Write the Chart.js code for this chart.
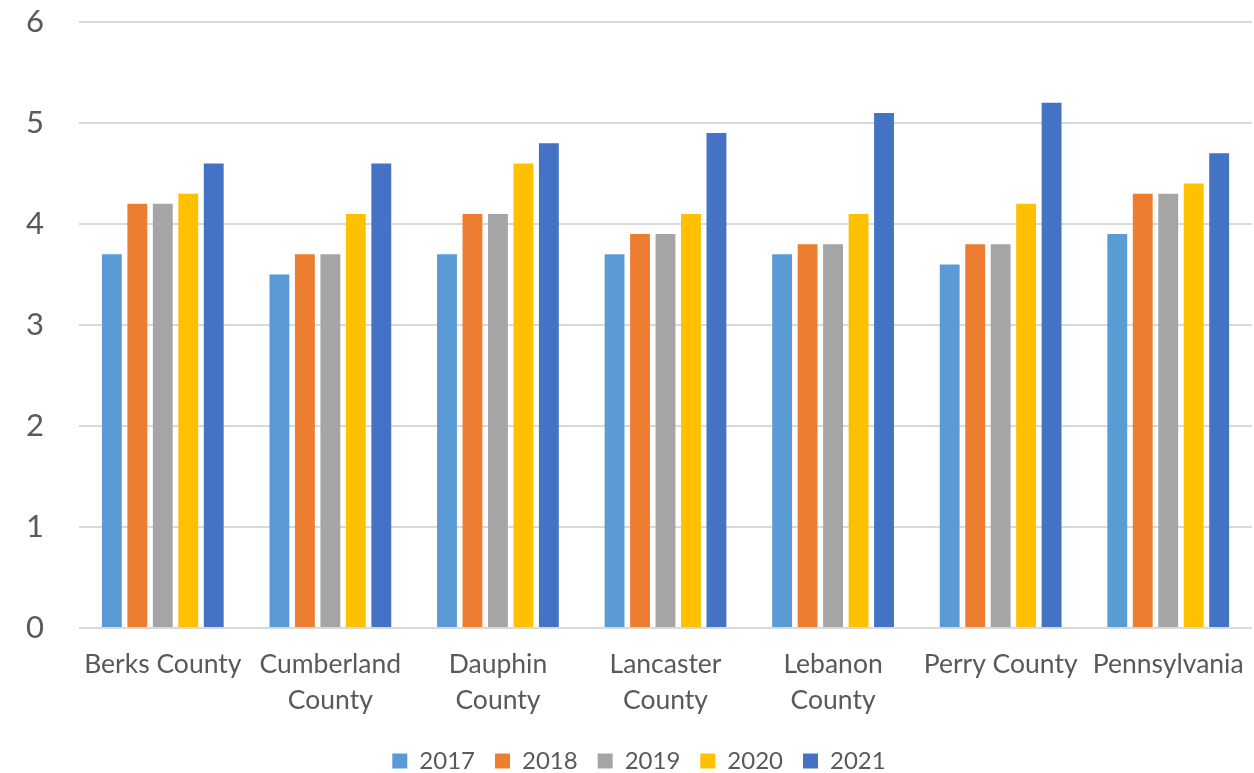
<!DOCTYPE html>
<html>
<head>
<meta charset="utf-8">
<script src="https://cdn.jsdelivr.net/npm/chart.js@4.4.1/dist/chart.umd.min.js"></script>
<style>
  html, body { margin:0; padding:0; background:#fff; }
  #wrap { width:1254px; height:773px; position:relative; }
</style>
</head>
<body>
<div id="wrap"><canvas id="c"></canvas></div>
<script>
// categories and series
const categories = [
  "Berks County", ["Cumberland", "County"], ["Dauphin", "County"],
  ["Lancaster", "County"], ["Lebanon", "County"], "Perry County", "Pennsylvania"
];
const years = ["2017", "2018", "2019", "2020", "2021"];
const v2017 = [3.7, 3.5, 3.7, 3.7, 3.7, 3.6, 3.9];
const v2018 = [4.2, 3.7, 4.1, 3.9, 3.8, 3.8, 4.3];
const v2019 = [4.2, 3.7, 4.1, 3.9, 3.8, 3.8, 4.3];
const v2020 = [4.3, 4.1, 4.6, 4.1, 4.1, 4.2, 4.4];
const v2021 = [4.6, 4.6, 4.8, 4.9, 5.1, 5.2, 4.7];
const yTicks = [0, 1, 2, 3, 4, 5, 6];

const colors = ["#5B9BD5", "#ED7D31", "#A5A5A5", "#FFC000", "#4472C4"];
const series = [v2017, v2018, v2019, v2020, v2021];

const font = "Lato, 'Open Sans', sans-serif";
const textColor = "#595959";

new Chart(document.getElementById("c"), {
  type: "bar",
  data: {
    labels: categories,
    datasets: series.map((vals, i) => ({
      label: years[i],
      data: vals,
      backgroundColor: colors[i],
      borderWidth: 0,
      categoryPercentage: 0.76,
      barPercentage: 0.78
    }))
  },
  options: {
    responsive: true,
    maintainAspectRatio: false,
    animation: false,
    layout: { padding: { left: 26, right: 2, top: 22, bottom: -10 } },
    plugins: {
      tooltip: { enabled: false },
      legend: {
        position: "bottom",
        labels: {
          color: textColor,
          font: { family: font, size: 24 },
          boxWidth: 15,
          boxHeight: 15,
          padding: 20
        }
      }
    },
    scales: {
      x: {
        grid: { display: false },
        border: { display: false },
        ticks: {
          color: textColor,
          font: { family: font, size: 26.5, lineHeight: 1.36 },
          padding: 10,
          maxRotation: 0,
          autoSkip: false
        },
        afterFit: s => { s.height = 101; }
      },
      y: {
        min: 0,
        max: 6,
        afterBuildTicks: s => { s.ticks = yTicks.map(v => ({ value: v })); },
        grid: { color: "#D9D9D9", lineWidth: 2, drawTicks: false },
        border: { display: false },
        ticks: {
          color: textColor,
          font: { family: font, size: 31 },
          padding: 0,
          crossAlign: "far"
        },
        afterFit: s => { s.width = 53; }
      }
    }
  }
});
</script>
</body>
</html>
